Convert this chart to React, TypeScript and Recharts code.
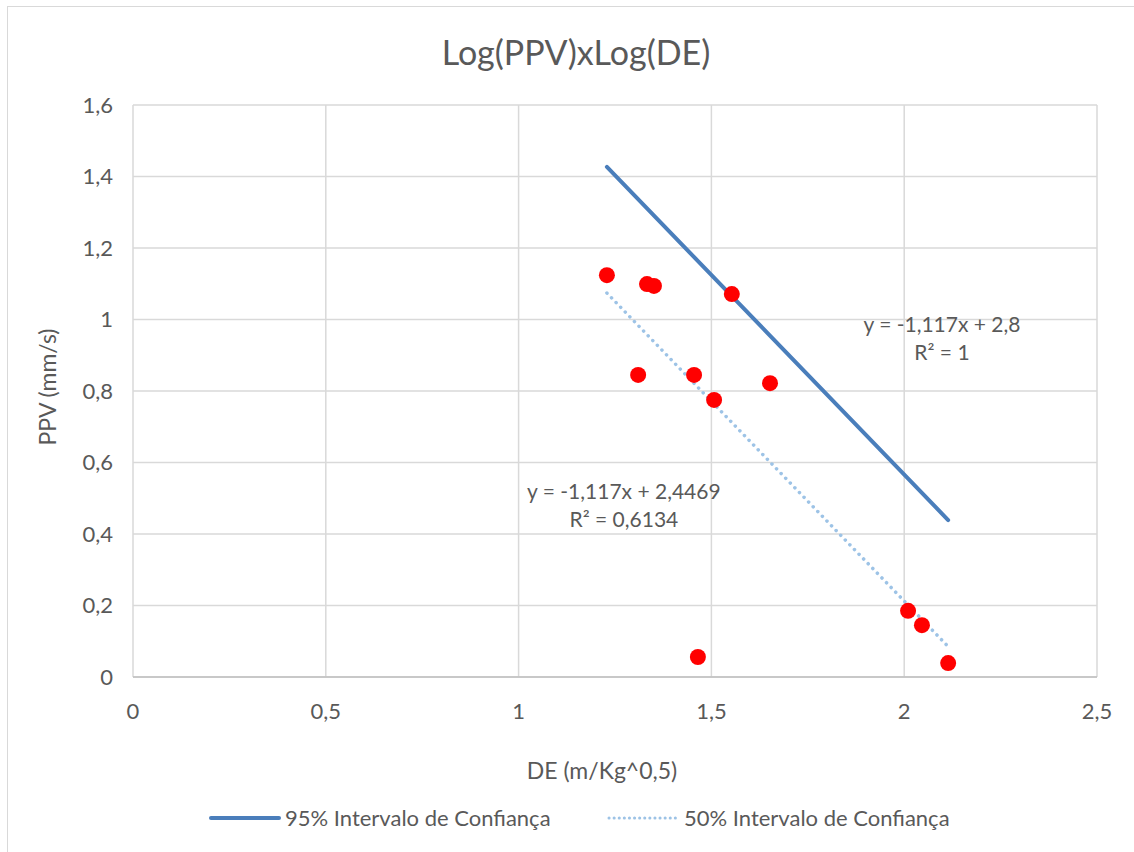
import React from "react";
import {
  ScatterChart,
  Scatter,
  XAxis,
  YAxis,
  CartesianGrid,
} from "recharts";

// measured points, log DE vs log PPV
const pontos = [
  { x: 1.229, y: 1.124 },
  { x: 1.333, y: 1.099 },
  { x: 1.351, y: 1.094 },
  { x: 1.553, y: 1.071 },
  { x: 1.31, y: 0.845 },
  { x: 1.455, y: 0.845 },
  { x: 1.507, y: 0.775 },
  { x: 1.652, y: 0.822 },
  { x: 1.465, y: 0.056 },
  { x: 2.01, y: 0.185 },
  { x: 2.046, y: 0.145 },
  { x: 2.114, y: 0.039 },
];

// trendline end points
const linha95 = [
  { x: 1.229, y: 1.427 },
  { x: 2.114, y: 0.439 },
];
const linha50 = [
  { x: 1.229, y: 1.074 },
  { x: 2.114, y: 0.085 },
];

// where the trendline equations sit
const eq95 = [{ x: 2.098, y: 0.99, l1: "y = -1,117x + 2,8", l2: "R² = 1" }];
const eq50 = [{ x: 1.273, y: 0.523, l1: "y = -1,117x + 2,4469", l2: "R² = 0,6134" }];

const xTicks = [0, 0.5, 1, 1.5, 2, 2.5];
const yTicks = [0, 0.2, 0.4, 0.6, 0.8, 1, 1.2, 1.4, 1.6];

const FONT = "Lato, 'Noto Sans', sans-serif";
const TXT = "#595959";
const AZUL = "#4A7EBB";
const AZUL_CLARO = "#9DC3E6";
const FS = 21;

const fmt = (v: number) => String(v).replace(".", ",");

const EqLabel = (p: any) => (
  <g>
    <text x={p.cx} y={p.cy} textAnchor="middle" dominantBaseline="central" fill={TXT} fontSize={FS} fontFamily={FONT}>
      {p.payload.l1}
    </text>
    <text x={p.cx} y={p.cy + 28} textAnchor="middle" dominantBaseline="central" fill={TXT} fontSize={FS} fontFamily={FONT}>
      {p.payload.l2}
    </text>
  </g>
);

export default function App() {
  return (
    <div style={{ position: "absolute", left: 0, top: 0, width: 1134, height: 852, background: "#fff", overflow: "hidden", fontFamily: FONT, color: TXT }}>
      <div style={{ position: "absolute", left: 7, top: 6, width: 1140, height: 900, border: "1.5px solid #d9d9d9" }} />
      <div style={{ position: "absolute", left: 0, top: 31, width: 1152, textAlign: "center", fontSize: 34 }}>
        Log(PPV)xLog(DE)
      </div>
      <div style={{ position: "absolute", left: 0, top: 0 }}>
        <ScatterChart width={1134} height={852} margin={{ top: 105, right: 37, bottom: 145, left: 73 }}>
          <CartesianGrid stroke="#d9d9d9" strokeWidth={1.5} />
          <XAxis
            type="number"
            dataKey="x"
            domain={[0, 2.5]}
            ticks={xTicks}
            tickFormatter={fmt}
            height={30}
            axisLine={{ stroke: "#bfbfbf", strokeWidth: 1.5 }}
            tickLine={false}
            tickSize={0}
            tickMargin={26}
            tick={{ fontSize: 22, fill: TXT, fontFamily: FONT }}
          />
          <YAxis
            type="number"
            dataKey="y"
            domain={[0, 1.6]}
            ticks={yTicks}
            tickFormatter={fmt}
            width={60}
            axisLine={false}
            tickLine={false}
            tickSize={0}
            tickMargin={20}
            tick={{ fontSize: 22, fill: TXT, fontFamily: FONT }}
          />
          <Scatter
            data={linha95}
            line={{ stroke: AZUL, strokeWidth: 4, strokeLinecap: "round" }}
            lineType="joint"
            shape={() => null}
            isAnimationActive={false}
          />
          <Scatter
            data={linha50}
            line={{ stroke: AZUL_CLARO, strokeWidth: 3.5, strokeDasharray: "0.1 6.5", strokeLinecap: "round" }}
            lineType="joint"
            shape={() => null}
            isAnimationActive={false}
          />
          <Scatter
            data={pontos}
            isAnimationActive={false}
            shape={(p: any) => <circle cx={p.cx} cy={p.cy} r={8} fill="#FF0000" />}
          />
          <Scatter data={eq95} shape={EqLabel} isAnimationActive={false} />
          <Scatter data={eq50} shape={EqLabel} isAnimationActive={false} />
        </ScatterChart>
      </div>
      <div style={{ position: "absolute", left: 502, top: 756, width: 200, textAlign: "center", fontSize: 23 }}>
        DE (m/Kg^0,5)
      </div>
      <div style={{ position: "absolute", left: 47, top: 388, width: 0, height: 0 }}>
        <div style={{ position: "absolute", left: -100, top: -15, width: 200, textAlign: "center", fontSize: 23, transform: "rotate(-90deg)", whiteSpace: "nowrap" }}>
          PPV (mm/s)
        </div>
      </div>
      <svg style={{ position: "absolute", left: 0, top: 806 }} width={1134} height={24}>
        <line x1={211} y1={12} x2={279} y2={12} stroke={AZUL} strokeWidth={4} strokeLinecap="round" />
        <line x1={609} y1={12} x2={677} y2={12} stroke={AZUL_CLARO} strokeWidth={3} strokeDasharray="0.1 5" strokeLinecap="round" />
      </svg>
      <div style={{ position: "absolute", left: 285, top: 804, fontSize: 22, whiteSpace: "nowrap" }}>95% Intervalo de Confiança</div>
      <div style={{ position: "absolute", left: 684, top: 804, fontSize: 22, whiteSpace: "nowrap" }}>50% Intervalo de Confiança</div>
    </div>
  );
}
